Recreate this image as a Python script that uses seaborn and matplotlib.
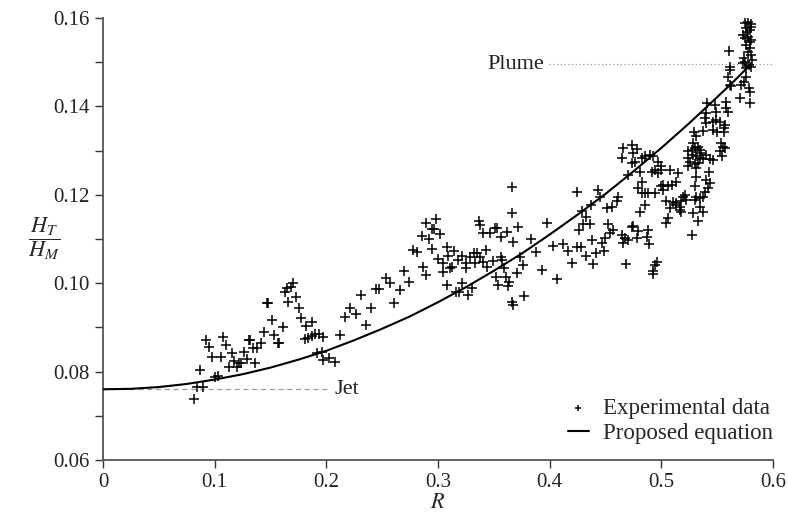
import numpy as np
import pandas as pd
import matplotlib
matplotlib.use("Agg")
import matplotlib.pyplot as plt
from matplotlib.ticker import MultipleLocator, FuncFormatter
import seaborn as sns

# experimental points (R, H_T/H_M)
r_exp = [
    0.0815, 0.084, 0.0895, 0.087, 0.092, 0.095, 0.0976, 0.100, 0.103, 0.1056,
    0.1075, 0.110, 0.113, 0.1155, 0.117, 0.120, 0.122, 0.1235, 0.126, 0.129,
    0.1307, 0.136, 0.2077, 0.197,
    0.1316, 0.134, 0.138, 0.1415, 0.144, 0.151, 0.153, 0.157, 0.158, 0.161,
    0.1468, 0.148, 0.163, 0.1656, 0.1647, 0.168, 0.170, 0.1728, 0.1755, 0.177,
    0.1817, 0.187, 0.181, 0.184, 0.187, 0.190, 0.193, 0.197, 0.1916, 0.196,
    0.202, 0.212, 0.2167, 0.221, 0.2265, 0.2355, 0.231, 0.240, 0.2445, 0.2475,
    0.2534, 0.257, 0.261, 0.266, 0.2695, 0.274, 0.2775, 0.281, 0.2865, 0.289,
    0.2856, 0.289, 0.292, 0.2945, 0.2963, 0.298, 0.3017, 0.2945, 0.300, 0.3044,
    0.308, 0.309, 0.3044, 0.3107, 0.3125, 0.3143, 0.308, 0.318, 0.3214, 0.325,
    0.325, 0.3286, 0.3214, 0.316, 0.319, 0.3268, 0.330, 0.332, 0.335, 0.333,
    0.3375, 0.340, 0.3366, 0.3375, 0.340, 0.343, 0.3438, 0.347, 0.349, 0.351,
    0.353, 0.3563, 0.3563, 0.357, 0.359, 0.3617, 0.352, 0.3536, 0.3608, 0.3626,
    0.3635, 0.366, 0.367, 0.367, 0.366, 0.366, 0.3706, 0.3715, 0.3733, 0.376,
    0.377, 0.383, 0.3877, 0.393, 0.3975,
    0.403, 0.4065, 0.412, 0.416, 0.420, 0.4243, 0.4243, 0.426, 0.428, 0.4288,
    0.430, 0.4324, 0.4324, 0.436, 0.437, 0.4378, 0.4387, 0.4414, 0.443,
    0.5746, 0.5776, 0.5806, 0.5761, 0.5791, 0.5731, 0.5776, 0.5806, 0.5761, 0.5791,
    0.5776, 0.5806, 0.5746, 0.5785, 0.5806, 0.5731, 0.5761, 0.5800, 0.5770, 0.5795,
    0.5750, 0.5810, 0.5740,
    0.5606, 0.5612, 0.5618, 0.5597, 0.5612, 0.5627, 0.5717, 0.5737, 0.5708, 0.5785,
    0.5797, 0.5797, 0.5761,
    0.541, 0.5478, 0.5582, 0.5576, 0.5597, 0.5487, 0.5398, 0.5389, 0.5404, 0.5374,
    0.5463, 0.5493, 0.5523, 0.5463, 0.5499, 0.5559, 0.5568, 0.5559,
    0.529, 0.5308, 0.5284, 0.524, 0.527, 0.5299, 0.5329, 0.5344, 0.5359, 0.524,
    0.5255, 0.5284, 0.5314, 0.5344, 0.5374, 0.5404, 0.5433, 0.5463, 0.524, 0.5299,
    0.5329, 0.5314, 0.5538, 0.5553, 0.5568, 0.5529, 0.5547,
    0.5314, 0.5428, 0.5404, 0.5433, 0.5418, 0.5389, 0.5374, 0.5344, 0.5314, 0.5299,
    0.5344, 0.5284, 0.5329, 0.5374, 0.5299, 0.5278,
    0.5016, 0.5061, 0.5091, 0.5135, 0.515, 0.5076, 0.5046, 0.5076, 0.5106, 0.5135,
    0.5165, 0.518, 0.5195, 0.521, 0.5225, 0.5165, 0.5135, 0.5061, 0.5046, 0.518,
    0.4659, 0.4733, 0.4778, 0.4644, 0.4748, 0.4823, 0.4852, 0.4897, 0.4927, 0.4972,
    0.5001, 0.4733, 0.4763, 0.4703, 0.4808, 0.4912, 0.4942, 0.4972, 0.5001,
    0.4793, 0.4831, 0.4823, 0.4852, 0.4882, 0.4942, 0.5001, 0.5016, 0.4852, 0.4808,
    0.445, 0.451, 0.4554, 0.4599, 0.4614, 0.4525, 0.4569, 0.4539, 0.4495, 0.4465,
    0.4486, 0.4644, 0.4674, 0.4703, 0.4659, 0.4748, 0.4733, 0.4793, 0.4778, 0.4867,
    0.4891, 0.4882, 0.4682, 0.4957, 0.4942, 0.4921, 0.4927,
]
h_exp = [
    0.0738, 0.0765, 0.0765, 0.0804, 0.0871, 0.0856, 0.0833, 0.0788, 0.0790, 0.0833,
    0.0878, 0.0860, 0.0810, 0.0842, 0.0824, 0.0810, 0.0819, 0.0819, 0.0844, 0.0829,
    0.0871, 0.0819, 0.0822, 0.0826,
    0.0871, 0.0853, 0.0853, 0.0865, 0.0890, 0.0917, 0.0883, 0.0865, 0.0865, 0.0900,
    0.0955, 0.0955, 0.0980, 0.0957, 0.0989, 0.0992, 0.1000, 0.0969, 0.0944, 0.0921,
    0.0903, 0.0912, 0.0874, 0.0877, 0.0880, 0.0885, 0.0885, 0.0878, 0.0842, 0.0844,
    0.0830, 0.0883, 0.0923, 0.0944, 0.0930, 0.0905, 0.0973, 0.0944, 0.0987, 0.0987,
    0.1012, 0.1000, 0.0955, 0.0985, 0.1028, 0.1003, 0.1075, 0.1071, 0.1037, 0.1019,
    0.1107, 0.1136, 0.1100, 0.1123, 0.1123, 0.1145, 0.1111, 0.1077, 0.1055, 0.1046,
    0.1082, 0.1062, 0.1025, 0.1034, 0.1037, 0.1073, 0.0996, 0.1052, 0.1062, 0.1046,
    0.1034, 0.1059, 0.1000, 0.0980, 0.0980, 0.0973, 0.0989, 0.1068, 0.1068, 0.1046,
    0.1059, 0.1048, 0.1140, 0.1132, 0.1114, 0.1075, 0.1037, 0.1114, 0.1050, 0.1125,
    0.1125, 0.1105, 0.1059, 0.1052, 0.1034, 0.1116, 0.1014, 0.0996, 0.1014, 0.0994,
    0.1003, 0.0957, 0.0950, 0.1093, 0.1159, 0.1218, 0.1023, 0.1127, 0.1059, 0.1041,
    0.0971, 0.1100, 0.1071, 0.1030, 0.1136,
    0.1084, 0.1010, 0.1089, 0.1073, 0.1046, 0.1206, 0.1082, 0.1120, 0.1082, 0.1163,
    0.1134, 0.1150, 0.1062, 0.1134, 0.1177, 0.1098, 0.1043, 0.1068, 0.1211,
    0.1588, 0.1590, 0.1586, 0.1577, 0.1573, 0.1562, 0.1558, 0.1550, 0.1539, 0.1531,
    0.1524, 0.1516, 0.1501, 0.1494, 0.1490, 0.1498, 0.1486, 0.1580, 0.1568, 0.1545,
    0.1555, 0.1505, 0.1510,
    0.1525, 0.1490, 0.1483, 0.1467, 0.1448, 0.1447, 0.1448, 0.1456, 0.1418, 0.1441,
    0.1432, 0.1407, 0.1467,
    0.1407, 0.1402, 0.1409, 0.1396, 0.1387, 0.1388, 0.1384, 0.1373, 0.1362, 0.1344,
    0.1365, 0.1369, 0.1365, 0.1347, 0.1343, 0.1351, 0.1358, 0.1342,
    0.1342, 0.1334, 0.1317, 0.1298, 0.1302, 0.1305, 0.1309, 0.1302, 0.1294, 0.1283,
    0.1275, 0.1290, 0.1287, 0.1284, 0.1281, 0.1290, 0.1281, 0.1279, 0.1264, 0.1269,
    0.1271, 0.1260, 0.1317, 0.1309, 0.1305, 0.1298, 0.1287,
    0.1241, 0.1252, 0.1234, 0.1226, 0.1215, 0.1207, 0.1196, 0.1192, 0.1196, 0.1188,
    0.1173, 0.1158, 0.1141, 0.1162, 0.1219, 0.1109,
    0.1222, 0.1219, 0.1222, 0.1228, 0.1249, 0.1256, 0.1185, 0.1170, 0.1183, 0.1177,
    0.1173, 0.1185, 0.1194, 0.1200, 0.1188, 0.1166, 0.1181, 0.1147, 0.1136, 0.1162,
    0.1305, 0.1313, 0.1304, 0.1284, 0.1294, 0.1283, 0.1287, 0.1289, 0.1287, 0.1275,
    0.1264, 0.1271, 0.1275, 0.1245, 0.1252, 0.1252, 0.1256, 0.1249, 0.1256,
    0.1215, 0.1230, 0.1203, 0.1203, 0.1203, 0.1203, 0.1219, 0.1211, 0.1177, 0.1162,
    0.1196, 0.1170, 0.1173, 0.1185, 0.1196, 0.1133, 0.1121, 0.1113, 0.1102, 0.1090,
    0.1073, 0.1109, 0.1102, 0.1098, 0.1090, 0.1130, 0.1126, 0.1118, 0.1103, 0.1105,
    0.1088, 0.1121, 0.1043, 0.1047, 0.1040, 0.1028, 0.1020,
]

# proposed equation
r_fit = [0.0, 0.025, 0.05, 0.075, 0.10, 0.125, 0.15, 0.175, 0.20, 0.225, 0.25,
         0.275, 0.30, 0.325, 0.35, 0.375, 0.40, 0.425, 0.45, 0.475, 0.50, 0.525,
         0.55, 0.565, 0.58]
h_fit = [0.0760, 0.0761, 0.0765, 0.0772, 0.0782, 0.0794, 0.0809, 0.0827, 0.0847,
         0.0871, 0.0897, 0.0925, 0.0957, 0.0991, 0.1028, 0.1067, 0.1110, 0.1155,
         0.1202, 0.1253, 0.1306, 0.1362, 0.1421, 0.1457, 0.1495]

jet_level = 0.076
plume_level = 0.1495

sns.set_style("ticks")
plt.rcParams["font.family"] = ["Liberation Serif", "DejaVu Serif"]
plt.rcParams["mathtext.fontset"] = "stix"

exp_df = pd.DataFrame({"R": r_exp, "H": h_exp})
fit_df = pd.DataFrame({"R": r_fit, "H": h_fit})

fig = plt.figure(figsize=(7.88, 5.18), dpi=100)
ax = fig.add_axes([0.1307, 0.112, 0.8503, 0.8533])

# reference levels for jet and plume
ax.plot([0, 0.203], [jet_level, jet_level], color="#999999", ls=(0, (4, 3)), lw=0.9)
ax.plot([0.399, 0.6], [plume_level, plume_level], color="#999999", ls=(0, (1, 2)), lw=0.9)
ax.text(0.207, jet_level, "Jet", fontsize=16, va="center", ha="left", color="#222222")
ax.text(0.395, plume_level, "Plume", fontsize=16, va="center", ha="right", color="#222222")

sns.scatterplot(data=exp_df, x="R", y="H", marker="+", color="black", s=55,
                linewidth=1.1, ax=ax, label="Experimental data", zorder=3)
sns.lineplot(data=fit_df, x="R", y="H", color="black", lw=1.5, ax=ax,
             label="Proposed equation", zorder=4)

ax.set_xlim(0, 0.6)
ax.set_ylim(0.06, 0.16)
ax.xaxis.set_major_locator(MultipleLocator(0.1))
ax.yaxis.set_major_locator(MultipleLocator(0.02))
ax.yaxis.set_minor_locator(MultipleLocator(0.01))
ax.xaxis.set_major_formatter(FuncFormatter(lambda v, p: f"{v:g}"))
ax.yaxis.set_major_formatter(FuncFormatter(lambda v, p: f"{v:.2f}"))
ax.tick_params(which="both", direction="out", length=6, width=1, colors="#333333",
               labelsize=15, labelcolor="#222222")
for s in ["left", "bottom"]:
    ax.spines[s].set_color("#555555")
    ax.spines[s].set_linewidth(1.3)
sns.despine(ax=ax)

ax.set_xlabel("$R$", fontsize=16, labelpad=1)
ax.set_ylabel(r"$\dfrac{H_T}{H_M}$", fontsize=16, rotation=0, va="center")
ax.yaxis.set_label_coords(-0.088, 0.5)

leg = ax.legend(loc="lower right", bbox_to_anchor=(1.03, -0.01), frameon=False,
                fontsize=16.5, handlelength=0.9, handletextpad=0.6, labelspacing=0.15,
                markerscale=0.6)

plt.savefig("out.png", dpi=100)
